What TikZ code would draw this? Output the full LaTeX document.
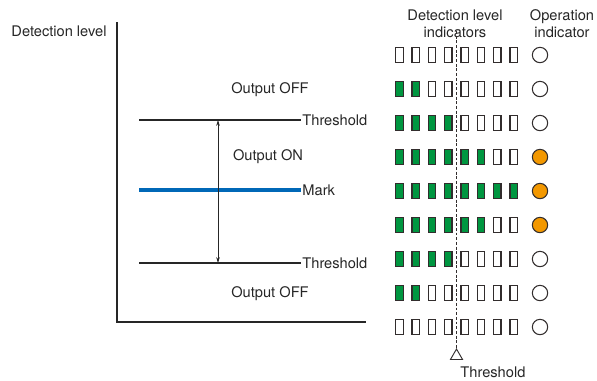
\documentclass[tikz,border=0pt]{standalone}
\usepackage{fontspec}
\setmainfont{TeX Gyre Heros}
\usetikzlibrary{arrows.meta,positioning,shapes.geometric}
\definecolor{ledgreen}{RGB}{0,150,64}
\definecolor{oporange}{RGB}{243,152,0}
\definecolor{markblue}{RGB}{0,104,183}
\definecolor{outline}{RGB}{50,45,45}
\tikzset{txt/.style={font=\fontsize{12.5}{14.5}\selectfont,inner sep=1pt,text=black!85}}

\begin{document}
\begin{tikzpicture}[x=0.03cm,y=-0.03cm]

\tikzset{ledoff/.style={draw=outline,fill=white,line width=1.1pt,minimum width=0.22cm,minimum height=0.44cm,inner sep=0pt,shape=rectangle},
ledon/.style={ledoff,fill=ledgreen},
opoff/.style={draw=outline,fill=white,line width=0.9pt,minimum size=0.46cm,inner sep=0pt,shape=circle},
opon/.style={opoff,fill=oporange},
level/.style={line width=0.9pt,draw=black!85}}

\useasboundingbox (0,0) rectangle (597,380);

% Axis
\coordinate (axTop) at (117,22);
\coordinate (axOrig) at (117,322);
\coordinate (axEnd) at (366,322);
\draw[line width=1.1pt,black!85] (axTop) -- (axOrig) -- (axEnd);
\node[txt,anchor=east] (axLabel) at (108,31) {Detection level};

% Levels
\coordinate (thUpL) at (139,120);
\node[txt,anchor=west] (thUp) at (301,120) {Threshold};
\coordinate (markL) at (139,190);
\node[txt,anchor=west] (mark) at (301,190) {Mark};
\coordinate (thLoL) at (139,263);
\node[txt,anchor=west] (thLo) at (301,263) {Threshold};
\draw[level] (thUpL) -- (thUp.west);
\draw[level] (thLoL) -- (thLo.west);
\draw[markblue,line width=2.7pt] (markL) -- (mark.west);

% Hysteresis arrow
\coordinate (arU) at (218,120);
\coordinate (arL) at (218,263);
\draw[black!85,line width=0.6pt,{Stealth[length=5pt,width=3pt]}-{Stealth[length=5pt,width=3pt]}] (arU) -- (arL);

% Output labels
\node[txt] (offUp) at (270,90) {Output OFF};
\node[txt] (on) at (268,157) {Output ON};
\node[txt] (offLo) at (270,294) {Output OFF};

% Headers
\node[txt,align=center] (hdLed) at (455,24) {Detection level\\indicators};
\node[txt,align=center] (hdOp) at (562,24) {Operation\\indicator};

% Indicator rows
\foreach \r/\n/\o in {1/0/opoff,2/2/opoff,3/4/opoff,4/6/opon,5/8/opon,6/6/opon,7/4/opoff,8/2/opoff,9/0/opoff} {
  \foreach \c in {1,...,8} {
    \ifnum\c>\n \def\st{ledoff}\else \def\st{ledon}\fi
    \node[\st] (l\r\c) at ({399.5+16.3*(\c-1)},{55+34*(\r-1)}) {};
  }
  \node[\o] (op\r) at (540,{55+34*(\r-1)}) {};
}

% Threshold of the indicators
\node[draw=outline,line width=0.8pt,fill=white,regular polygon,regular polygon sides=3,minimum size=0.42cm,inner sep=0pt] (tri) at (456.5,356) {};
\coordinate (dashTop) at (456.5,31);
\draw[outline,line width=0.8pt,dash pattern=on 2.5pt off 1.5pt] (dashTop) -- (tri.north);
\node[txt,anchor=west] (thLed) at (459,372) {Threshold};

\end{tikzpicture}
\end{document}
